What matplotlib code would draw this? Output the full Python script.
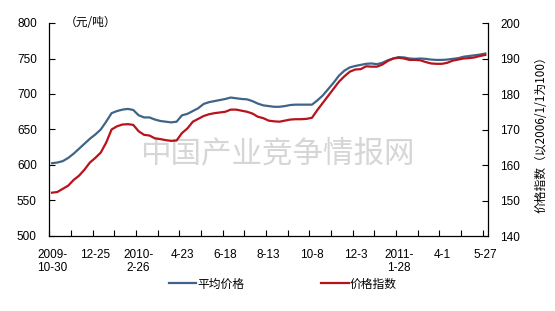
import matplotlib
matplotlib.use("Agg")
import matplotlib.pyplot as plt
import numpy as np
from matplotlib.ticker import FixedLocator, NullFormatter

plt.rcParams['font.family'] = ['Liberation Sans', 'Noto Sans CJK SC', 'DejaVu Sans']

avg_price = [602.5, 603.5, 605.5, 610, 616, 623, 630, 637, 643, 650,
             661, 673, 676, 678, 679, 677.5, 670, 667, 667, 664,
             662, 661, 660, 661, 670, 672, 676, 680, 686, 688.5,
             690, 691.5, 693, 695, 694, 693, 692.5, 690, 686.5, 684,
             683, 682, 682, 683, 684.5, 685, 685, 685, 685, 691,
             698, 707, 716, 726, 733, 737.5, 739.5, 741, 742.5, 743,
             742, 744, 747.5, 750, 752, 751.5, 750, 749.5, 750, 749.5,
             748.5, 748, 748, 748.5, 749.5, 750.5, 752.5, 753.5, 754.5, 755.5,
             757]
price_index = [152.2, 152.4, 153.3, 154.2, 155.8, 157.0, 158.7, 160.7, 162.0, 163.5,
               166.3, 170.0, 170.9, 171.4, 171.5, 171.3, 169.5, 168.5, 168.3, 167.5,
               167.3, 167.0, 166.8, 166.9, 169.0, 170.3, 172.2, 173.0, 173.8, 174.3,
               174.6, 174.8, 175.0, 175.6, 175.6, 175.3, 175.0, 174.5, 173.6, 173.2,
               172.5, 172.3, 172.2, 172.5, 172.8, 172.9, 172.9, 173.0, 173.3, 175.5,
               177.5, 179.5, 181.5, 183.5, 185.0, 186.3, 186.9, 187.0, 187.8, 187.7,
               187.7, 188.3, 189.3, 190.0, 190.2, 190.0, 189.6, 189.6, 189.5, 189.0,
               188.6, 188.5, 188.5, 188.8, 189.4, 189.7, 190.0, 190.1, 190.3, 190.7,
               191.0]
x_labels = ["2009-\n10-30", "12-25", "2010-\n2-26", "4-23", "6-18", "8-13",
            "10-8", "12-3", "2011-\n1-28", "4-1", "5-27"]
series_names = ["平均价格", "价格指数"]
left_ticks = [500, 550, 600, 650, 700, 750, 800]
right_ticks = [140, 150, 160, 170, 180, 190, 200]

n = len(avg_price)
x = np.arange(n)

fig = plt.figure(figsize=(5.55, 3.11), dpi=100)
ax = fig.add_axes([49.3/555, 1-236/311, (488-49.3)/555, (236-23)/311])
ax2 = ax.twinx()

blue = '#3f6488'
red = '#b8121c'
l1, = ax.plot(x, avg_price, color=blue, lw=1.6, zorder=3)
l2, = ax2.plot(x, price_index, color=red, lw=1.6, zorder=3)

ax.set_xlim(-0.5, n - 0.5)
ax.set_ylim(500, 800)
ax2.set_ylim(140, 200)
ax.set_yticks(left_ticks)
ax2.set_yticks(right_ticks)

ax.xaxis.set_major_locator(FixedLocator(np.arange(-0.5, n, 4)))
ax.xaxis.set_major_formatter(NullFormatter())
ax.xaxis.set_minor_locator(FixedLocator(np.arange(0, n, 8)))
ax.set_xticklabels(x_labels, minor=True, linespacing=1.15)
ax.tick_params(axis='x', which='major', direction='in', length=4, width=0.8)
ax.tick_params(axis='x', which='minor', length=0, pad=9, labelsize=8.5)
ax.tick_params(axis='y', direction='in', length=4, width=0.8, pad=9, labelsize=8.5)
ax2.tick_params(axis='y', direction='in', length=4, width=0.8, pad=9, labelsize=8.5)
for lab in ax.get_xticklabels(minor=True):
    lab.set_va('top')

for a in (ax, ax2):
    a.spines['top'].set_visible(False)
    for s in ('left', 'right', 'bottom'):
        a.spines[s].set_linewidth(0.9)
        a.spines[s].set_color('black')
ax.spines['right'].set_visible(False)
ax2.spines['left'].set_visible(False)
ax2.spines['bottom'].set_visible(False)

ax.text(277/555, 1-154/311, "中国产业竞争情报网", transform=fig.transFigure,
        ha='center', va='center', fontsize=22, color='#d6d6d6',
        family=['Noto Sans CJK SC'], zorder=0)

fig.text(65/555, 1-23/311, "（元/吨）", ha='left', va='center', fontsize=8.5,
         family=['Noto Sans CJK SC', 'DejaVu Sans'])
fig.text(541/555, 1-132/311, "价格指数（以2006/1/1为100）", rotation=90,
         ha='center', va='center', fontsize=8.5,
         family=['Noto Sans CJK SC', 'DejaVu Sans'])

leg = fig.legend([l1, l2], series_names, loc='center', bbox_to_anchor=(283/555, 1-284/311),
                 ncol=2, frameon=False, handlelength=2.3, handletextpad=0.1,
                 columnspacing=6.5, prop={'family': 'Noto Sans CJK SC', 'size': 8.5})

fig.savefig("out.png", dpi=100)
